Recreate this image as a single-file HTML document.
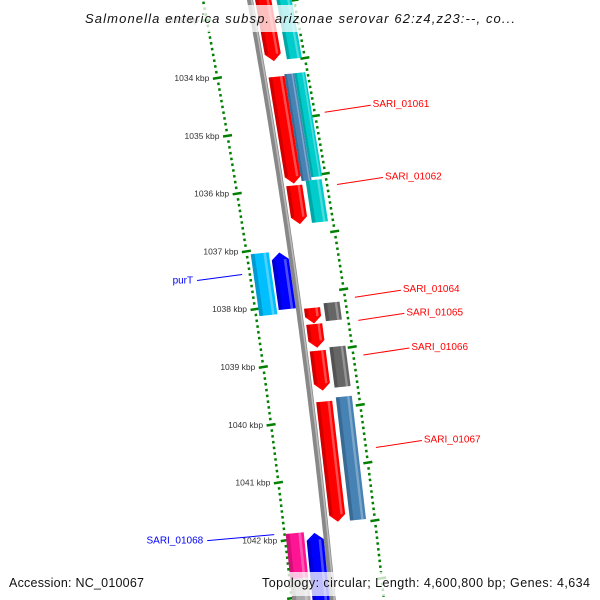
<!DOCTYPE html>
<html><head><meta charset="utf-8"><style>
html,body{margin:0;padding:0;background:#fff;}
svg{display:block;font-family:"Liberation Sans","DejaVu Sans",sans-serif;}
</style></head><body>
<svg id="map" width="600" height="600" viewBox="0 0 600 600" xmlns="http://www.w3.org/2000/svg">
<g id="rulers"></g>
<path id="backbone" fill="none" stroke="#888" stroke-width="6"/>
<path id="backbone-hl" fill="none" stroke="#bbb" stroke-width="1.5"/>
<g id="genes"></g>
<g id="labels"></g>
<rect x="80" y="5" width="440" height="27" fill="#fff" fill-opacity="0.75"/>
<text x="300" y="23" text-anchor="middle" font-size="13" font-style="italic" fill="#111" textLength="430" lengthAdjust="spacing">Salmonella enterica subsp. arizonae serovar 62:z4,z23:--, co...</text>
<rect x="4" y="572" width="148" height="24" fill="#fff" fill-opacity="0.75"/>
<text x="9" y="587" font-size="12.5" fill="#111" textLength="135" lengthAdjust="spacing">Accession: NC_010067</text>
<rect x="256" y="572" width="340" height="24" fill="#fff" fill-opacity="0.75"/>
<text x="590" y="587" font-size="12.5" fill="#111" text-anchor="end" textLength="328" lengthAdjust="spacing">Topology: circular; Length: 4,600,800 bp; Genes: 4,634</text>
</svg>
<script>
// ---- data ----
var tickKbp = [1033, 1034, 1035, 1036, 1037, 1038, 1039, 1040, 1041, 1042];
var tickLabels = ["1033 kbp","1034 kbp","1035 kbp","1036 kbp","1037 kbp","1038 kbp","1039 kbp","1040 kbp","1041 kbp","1042 kbp"];
var geneStart = [1032.6, 1032.6, 1034.0, 1033.97, 1033.97, 1035.88, 1035.82, 1037.0, 1036.98, 1038.0, 1037.94, 1038.28, 1038.74, 1038.7, 1039.62, 1039.57, 1041.85, 1041.82, 1042.6];
var geneEnd   = [1033.73, 1033.72, 1035.85, 1035.82, 1035.77, 1036.55, 1036.55, 1037.98, 1038.05, 1038.27, 1038.25, 1038.69, 1039.43, 1039.4, 1041.7, 1041.7, 1043.2, 1043.2, 1043.2];
var geneLane  = ["r1","r2c","r1","r2a","r2b","r1","r2","l1","l2","r1","r2","r1","r1","r2","r1","r2","l1","l2","l2"];
var geneColor = ["#ff0000","#00cccc","#ff0000","#4682b4","#00cccc","#ff0000","#00cccc","#0000ff","#00bfff","#ff0000","#666666","#ff0000","#ff0000","#666666","#ff0000","#4682b4","#0000ff","#ff1493","#aaaaaa"];
var geneArrow = ["down","none","down","none","none","down","none","up","none","down","none","down","down","none","down","none","up","none","none"];
var labelText = ["SARI_01061","SARI_01062","purT","SARI_01064","SARI_01065","SARI_01066","SARI_01067","SARI_01068"];
var labelKbp  = [1034.8, 1036.05, 1037.4, 1038.0, 1038.4, 1039.0, 1040.6, 1041.9];
var labelSide = ["right","right","left","right","right","right","right","left"];
var labelColor= ["#ff0000","#ff0000","#0000ff","#ff0000","#ff0000","#ff0000","#ff0000","#0000ff"];
var labelDy   = [0, 0, 0, 0, 0, 0, 0, 0];

// ---- scales ----
function Y(k){ return 78 + (k - 1034) * 57.8; }
function X(y){ return 250 + 0.18*y - 0.00007*y*y; }
var lanes = { r1:[5,21], r2:[25,41], r2a:[21,31], r2b:[31,42], r2c:[26,41], l1:[-20,-3], l2:[-40,-22] };
var NS = "http://www.w3.org/2000/svg";
function mk(tag, attrs, parent){ var e=document.createElementNS(NS,tag); for(var a in attrs) e.setAttribute(a, attrs[a]); parent.appendChild(e); return e; }

// backbone
var d=""; for(var y=-5;y<=605;y+=5){ d += (y===-5?"M":"L") + X(y).toFixed(1) + " " + y; }
document.getElementById("backbone").setAttribute("d", d);
var d2=""; for(var y=-5;y<=605;y+=5){ d2 += (y===-5?"M":"L") + (X(y)+1.5).toFixed(1) + " " + y; }
document.getElementById("backbone-hl").setAttribute("d", d2);

// rulers
var rg = document.getElementById("rulers");
function leftOff(y){ return -47 + 0.01*y; }
function rightOff(y){ return 44 + 0.012*y; }
for (var k10 = 10320; k10 <= 10435; k10++) {
  var k = k10/10, major = (k10 % 10 === 0);
  var yl = Y(k), xl = X(yl) + leftOff(yl);
  var yr = Y(k) - 20, xr = X(yr) + rightOff(yr);
  var w = major ? 9 : 2.5;
  var l1 = mk("line", {x1:xl-w/2, y1:yl+w*0.08, x2:xl+w/2, y2:yl-w*0.08, stroke:"#008000", "stroke-width":2.5}, rg);
  
  
  var l2 = mk("line", {x1:xr-w/2, y1:yr+w*0.08, x2:xr+w/2, y2:yr-w*0.08, stroke:"#008000", "stroke-width":2.5}, rg);
  
  
}
for (var i=0;i<tickKbp.length;i++){
  var y = Y(tickKbp[i]), x = X(y) + leftOff(y) - 8;
  var t = mk("text", {x:x, y:y+3, "font-size":8.5, fill:"#333", "text-anchor":"end"}, rg);
  t.textContent = tickLabels[i];
  
  
}

// genes
var gg = document.getElementById("genes");
function lighten(c){ return c; }
for (var i=0;i<geneStart.length;i++){
  var y0 = Y(geneStart[i]), y1 = Y(geneEnd[i]);
  var ln = lanes[geneLane[i]], o0 = ln[0], o1 = ln[1];
  var s = 0.1; // skew for left/right edges
  var pts;
  var tip = 7;
  function P(o,y){ return (X(y)+o).toFixed(1)+","+(y - o*s).toFixed(1); }
  if (geneArrow[i]==="down"){
    var ym=y1-tip, om=(o0+o1)/2;
    pts=[P(o0,y0),P(o1,y0),P(o1,ym),P(om,y1),P(o0,ym)];
  } else if (geneArrow[i]==="up"){
    var ym=y0+tip, om=(o0+o1)/2;
    pts=[P(om,y0),P(o1,ym),P(o1,y1),P(o0,y1),P(o0,ym)];
  } else {
    pts=[P(o0,y0),P(o1,y0),P(o1,y1),P(o0,y1)];
  }
  var g = mk("polygon", {points:pts.join(" "), fill:geneColor[i]}, gg);
  
  
  // shading stripes
  var w=o1-o0;
  var yA = geneArrow[i]==="up" ? y0+tip : y0, yB = geneArrow[i]==="down" ? y1-tip : y1;
  var dark = mk("polygon", {points:[P(o0,yA),P(o0+w*0.22,yA),P(o0+w*0.22,yB),P(o0,yB)].join(" "), fill:"#000", "fill-opacity":0.18}, gg);
  
  
  var lite = mk("polygon", {points:[P(o0+w*0.7,yA),P(o0+w*0.85,yA),P(o0+w*0.85,yB),P(o0+w*0.7,yB)].join(" "), fill:"#fff", "fill-opacity":0.3}, gg);
  
  
}

// labels
var lg = document.getElementById("labels");
for (var i=0;i<labelText.length;i++){
  var y = Y(labelKbp[i]);
  var t, ln;
  if (labelSide[i]==="right"){
    var ys = y - 12, xs = X(ys) + rightOff(ys) + 10;
    var xe = xs + 46, ye = ys - 7;
    ln = mk("line", {x1:xs, y1:ys, x2:xe, y2:ye, stroke:labelColor[i], "stroke-width":1}, lg);
    t = mk("text", {x:xe+2, y:ye+2, "font-size":10, fill:labelColor[i]}, lg);
  } else {
    var ys = y, xs = X(ys) - 52;
    var xe = xs - 45 - (i===7?22:0), ye = ys + 6;
    ln = mk("line", {x1:xs, y1:ys, x2:xe, y2:ye, stroke:labelColor[i], "stroke-width":1}, lg);
    t = mk("text", {x:xe-4, y:ye+3, "font-size":10, fill:labelColor[i], "text-anchor":"end"}, lg);
  }
  t.textContent = labelText[i];
  
  
  
  
}
</script>
</body></html>
